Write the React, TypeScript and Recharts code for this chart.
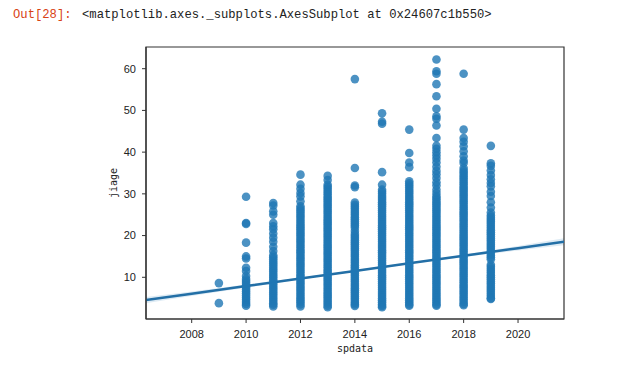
import React from 'react'
import {
  ComposedChart,
  Scatter,
  Line,
  Area,
  XAxis,
  YAxis,
  ReferenceArea,
} from 'recharts'

// jiage values per year (spdata)
const years = [2009, 2010, 2011, 2012, 2013, 2014, 2015, 2016, 2017, 2018, 2019]

const jiage2009 = [8.6, 3.8]
const jiage2010 = [
  29.3, 23.0, 22.8, 18.3, 15.0, 14.5, 12.3, 11.5, 10.3, 9.6, 9.1, 8.6, 8.1, 7.6, 7.1, 6.6, 6.1, 5.6, 5.1,
  4.6, 4.1, 3.6, 3.2,
]
const jiage2011 = [
  27.8, 27.2, 25.8, 25.0, 23.0, 22.2, 21.5, 20.5, 19.5, 18.5, 17.3, 16.3, 15.3, 14.8, 14.3, 13.8, 13.3, 12.8,
  12.3, 11.8, 11.3, 10.8, 10.3, 9.8, 9.3, 8.8, 8.3, 7.8, 7.3, 6.8, 6.3, 5.8, 5.3, 4.8, 4.3, 3.8, 3.4, 3.0,
]
const jiage2012 = [
  34.6, 32.2, 31.2, 30.2, 29.4, 28.2, 27.0, 26.5, 26.0, 25.5, 25.0, 24.5, 24.0, 23.5, 23.0, 22.5, 22.0, 21.5,
  21.0, 20.5, 20.0, 19.5, 19.0, 18.5, 18.0, 17.5, 17.0, 16.5, 16.0, 15.5, 15.0, 14.5, 14.0, 13.5, 13.0, 12.5,
  12.0, 11.5, 11.0, 10.5, 10.0, 9.5, 9.0, 8.5, 8.0, 7.5, 7.0, 6.5, 6.0, 5.5, 5.0, 4.5, 4.0, 3.5, 3.0,
]
const jiage2013 = [
  34.3, 33.3, 32.2, 31.7, 31.2, 30.7, 30.2, 29.7, 29.2, 28.7, 28.2, 27.7, 27.2, 26.7, 26.2, 25.7, 25.2, 24.7,
  24.2, 23.7, 23.2, 22.7, 22.2, 21.7, 21.2, 20.7, 20.2, 19.7, 19.2, 18.7, 18.2, 17.7, 17.2, 16.7, 16.2, 15.7,
  15.2, 14.7, 14.2, 13.7, 13.2, 12.7, 12.2, 11.7, 11.2, 10.7, 10.2, 9.7, 9.2, 8.7, 8.2, 7.7, 7.2, 6.7, 6.2,
  5.7, 5.2, 4.7, 4.2, 3.7, 3.2, 2.8,
]
const jiage2014 = [
  57.5, 36.2, 32.0, 31.6, 27.9, 27.4, 26.9, 26.4, 25.9, 25.4, 24.9, 24.4, 23.9, 23.4, 22.9, 22.4, 21.9, 21.1,
  20.4, 19.9, 19.4, 18.9, 18.4, 17.9, 17.4, 16.9, 16.4, 15.9, 15.4, 14.9, 14.4, 13.9, 13.4, 12.9, 12.4, 11.9,
  11.4, 10.9, 10.4, 9.9, 9.4, 8.9, 8.4, 7.9, 7.4, 6.9, 6.4, 5.9, 5.4, 4.9, 4.4, 3.9, 3.5, 3.1,
]
const jiage2015 = [
  49.3, 47.3, 46.8, 35.2, 32.2, 31.0, 30.5, 30.0, 29.5, 29.0, 28.5, 28.0, 27.5, 27.0, 26.5, 26.0, 25.5, 25.0,
  24.5, 24.0, 23.5, 23.0, 22.5, 22.0, 21.5, 21.0, 20.5, 20.0, 19.5, 19.0, 18.5, 18.0, 17.5, 17.0, 16.5, 16.0,
  15.5, 15.0, 14.5, 14.0, 13.5, 13.0, 12.5, 12.0, 11.5, 11.0, 10.5, 10.0, 9.5, 9.0, 8.5, 8.0, 7.5, 7.0, 6.5,
  6.0, 5.5, 5.0, 4.5, 4.0, 3.5, 3.1, 2.8,
]
const jiage2016 = [
  45.4, 39.8, 37.5, 36.4, 33.0, 32.5, 32.0, 31.5, 31.0, 30.5, 30.0, 29.5, 29.0, 28.5, 28.0, 27.5, 27.0, 26.5,
  26.0, 25.5, 25.0, 24.5, 24.0, 23.5, 23.0, 22.5, 22.0, 21.5, 21.0, 20.5, 20.0, 19.5, 19.0, 18.5, 18.0, 17.5,
  17.0, 16.5, 16.0, 15.5, 15.0, 14.5, 14.0, 13.5, 13.0, 12.5, 12.0, 11.5, 11.0, 10.5, 10.0, 9.5, 9.0, 8.5,
  8.0, 7.5, 7.0, 6.5, 6.0, 5.5, 5.0, 4.5, 4.0, 3.5, 3.2,
]
const jiage2017 = [
  62.2, 59.4, 58.8, 56.3, 53.4, 50.4, 48.6, 48.0, 46.4, 43.4, 41.5, 40.8, 40.0, 39.2, 38.4, 37.5, 36.5, 35.5,
  34.7, 33.8, 32.8, 32.0, 31.0, 30.2, 29.5, 29.0, 28.5, 28.0, 27.5, 27.0, 26.5, 26.0, 25.5, 25.0, 24.5, 24.0,
  23.5, 23.0, 22.5, 22.0, 21.5, 21.0, 20.5, 20.0, 19.5, 19.0, 18.5, 18.0, 17.5, 17.0, 16.5, 16.0, 15.5, 15.0,
  14.5, 14.0, 13.5, 13.0, 12.5, 12.0, 11.5, 11.0, 10.5, 10.0, 9.5, 9.0, 8.5, 8.0, 7.5, 7.0, 6.5, 6.0, 5.5,
  5.0, 4.5, 4.0, 3.5, 3.2,
]
const jiage2018 = [
  58.8, 45.4, 43.4, 42.5, 41.4, 40.2, 39.0, 38.0, 37.4, 36.2, 35.6, 35.1, 34.6, 34.1, 33.6, 33.1, 32.6, 32.1,
  31.6, 31.1, 30.6, 30.1, 29.6, 29.1, 28.6, 28.1, 27.6, 27.1, 26.6, 26.1, 25.6, 25.1, 24.6, 24.1, 23.6, 23.1,
  22.6, 22.1, 21.6, 21.1, 20.6, 20.1, 19.6, 19.1, 18.6, 18.1, 17.6, 17.1, 16.6, 16.1, 15.6, 15.1, 14.6, 14.1,
  13.6, 13.1, 12.6, 12.1, 11.6, 11.1, 10.6, 10.1, 9.6, 9.1, 8.6, 8.1, 7.6, 7.1, 6.6, 6.1, 5.6, 5.1, 4.6, 4.1,
  3.6, 3.3,
]
const jiage2019 = [
  41.5, 37.3, 36.7, 35.6, 34.5, 33.5, 32.6, 31.8, 30.5, 29.5, 28.0, 26.7, 25.5, 24.8, 24.3, 23.8, 23.3, 22.8,
  22.3, 21.8, 21.3, 20.8, 20.3, 19.8, 19.3, 18.8, 18.3, 17.8, 17.3, 16.8, 16.3, 15.8, 15.3, 14.8, 14.3, 13.0,
  12.5, 12.0, 11.5, 11.0, 10.5, 10.0, 9.5, 9.0, 8.5, 8.0, 7.5, 7.0, 6.5, 6.0, 5.5, 5.0, 4.8,
]

const jiageByYear = [
  jiage2009, jiage2010, jiage2011, jiage2012, jiage2013, jiage2014,
  jiage2015, jiage2016, jiage2017, jiage2018, jiage2019,
]

// regression line and its confidence band
const fitX = [2006.32, 2008, 2010, 2012, 2014, 2016, 2018, 2020, 2021.69]
const fitY = [4.55, 6.07, 7.89, 9.71, 11.52, 13.34, 15.15, 16.97, 18.5]
const bandLow = [3.8, 5.52, 7.51, 9.46, 11.32, 13.14, 14.87, 16.42, 17.65]
const bandHigh = [5.3, 6.62, 8.27, 9.96, 11.72, 13.54, 15.43, 17.52, 19.35]

const xTicks = [2008, 2010, 2012, 2014, 2016, 2018, 2020]
const yTicks = [10, 20, 30, 40, 50, 60]

const X_DOMAIN = [2006.32, 2021.69]
const Y_DOMAIN = [0, 65.2]
const BLUE = '#1f77b4'
const AXIS = '#333'

const points = years.flatMap((yr, i) => jiageByYear[i].map((v) => ({ x: yr, y: v })))
const fitRows = fitX.map((x, i) => ({ x, fit: fitY[i], band: [bandLow[i], bandHigh[i]] }))

const Dot = (props: any) => {
  const { cx, cy } = props
  if (cx == null || cy == null) return null
  return <circle cx={cx} cy={cy} r={4.3} fill={BLUE} fillOpacity={0.8} />
}

export default function App() {
  const tickStyle = { fill: '#222', fontSize: 11, fontFamily: '"Liberation Sans", Arial, sans-serif' }
  const labelFont = '"DejaVu Sans Mono", monospace'
  const monoText = {
    position: 'absolute' as const,
    top: 0,
    lineHeight: '14px',
    fontSize: 12.2,
    fontFamily: '"Liberation Mono", monospace',
    whiteSpace: 'pre' as const,
  }
  return (
    <div style={{ position: 'relative', width: 611, height: 353 }}>
      <div style={{ ...monoText, left: 5, color: '#d84315' }}>Out[28]:</div>
      <div style={{ ...monoText, left: 74, color: '#222' }}>
        {'<matplotlib.axes._subplots.AxesSubplot at 0x24607c1b550>'}
      </div>
      <div style={{ position: 'absolute', top: 0, left: 0 }}>
        <ComposedChart
          width={611}
          height={353}
          data={fitRows}
          margin={{ top: 39, right: 55, bottom: 0, left: 76 }}
        >
          <XAxis
            type="number"
            dataKey="x"
            domain={X_DOMAIN}
            ticks={xTicks}
            allowDataOverflow
            height={42}
            tick={tickStyle}
            tickSize={4}
            tickMargin={7}
            axisLine={{ stroke: AXIS, strokeWidth: 1.2 }}
            tickLine={{ stroke: AXIS }}
            label={{
              value: 'spdata',
              position: 'insideBottom',
              offset: 9,
              fill: '#222',
              fontSize: 10,
              fontFamily: labelFont,
            }}
          />
          <YAxis
            type="number"
            domain={Y_DOMAIN}
            ticks={yTicks}
            allowDataOverflow
            width={62}
            tick={tickStyle}
            tickSize={4}
            tickMargin={6}
            axisLine={{ stroke: AXIS, strokeWidth: 1.2 }}
            tickLine={{ stroke: AXIS }}
            label={{
              value: 'jiage',
              angle: -90,
              position: 'center',
              dx: -2,
              fill: '#222',
              fontSize: 10,
              fontFamily: labelFont,
            }}
          />
          <Scatter data={points} dataKey="y" shape={<Dot />} isAnimationActive={false} />
          <Area
            type="monotone"
            dataKey="band"
            stroke="none"
            fill={BLUE}
            fillOpacity={0.15}
            isAnimationActive={false}
          />
          <Line
            type="linear"
            dataKey="fit"
            stroke="#236fa6"
            strokeWidth={2.5}
            dot={false}
            isAnimationActive={false}
          />
          <ReferenceArea
            x1={X_DOMAIN[0]}
            x2={X_DOMAIN[1]}
            y1={Y_DOMAIN[0]}
            y2={Y_DOMAIN[1]}
            fill="none"
            stroke={AXIS}
            strokeWidth={1.2}
          />
        </ComposedChart>
      </div>
    </div>
  )
}
